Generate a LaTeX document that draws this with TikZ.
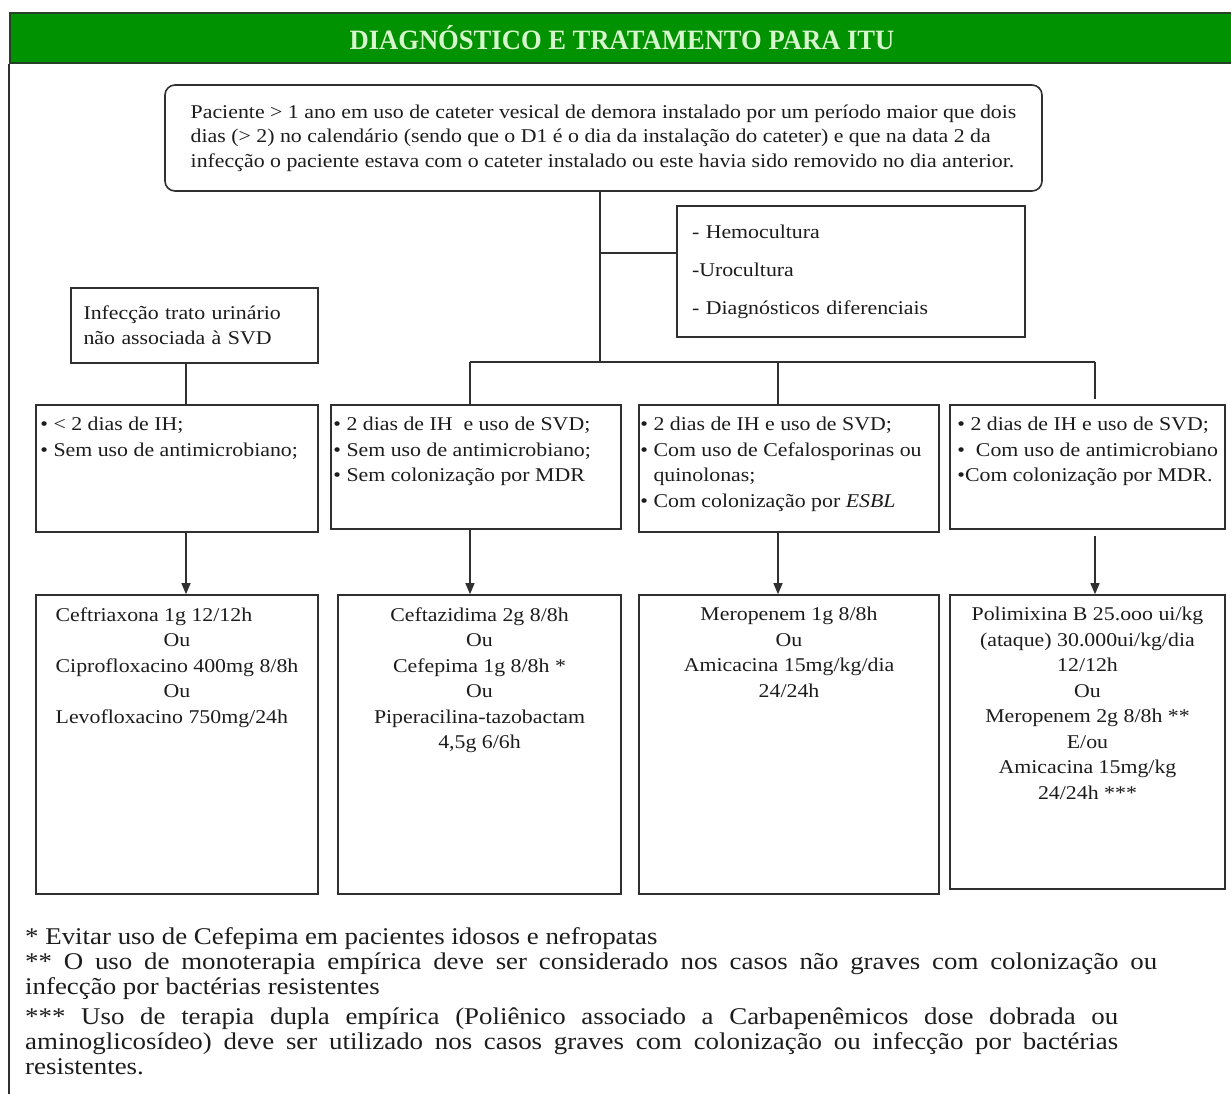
\documentclass[tikz,border=0pt]{standalone}
\usepackage{fontspec}
\setmainfont[FakeStretch=1.12]{Liberation Serif}
\newfontfamily\titleface[FakeStretch=0.95]{Liberation Serif}
\usetikzlibrary{arrows.meta,positioning}
\definecolor{bandGreen}{RGB}{0,146,0}
\definecolor{bandEdge}{RGB}{38,66,38}
\definecolor{titleInk}{RGB}{214,246,204}
\definecolor{lineGray}{RGB}{48,48,48}
\definecolor{inkBlack}{RGB}{28,28,28}
\newcommand{\boxfont}{\fontsize{19.5}{25.5}\selectfont}
\newcommand{\topfont}{\fontsize{19.5}{24.5}\selectfont}
\newcommand{\notefont}{\fontsize{24}{25}\selectfont}
\newcommand{\ciprofloxacino}{Ciprofloxacino 400mg 8/8h}
\tikzset{
  title band/.style={draw=bandEdge,line width=2pt,fill=bandGreen,text=titleInk,font=\titleface\bfseries\fontsize{28}{30}\selectfont,inner sep=0pt},
  flow box/.style={draw=lineGray,line width=1.6pt,inner sep=0pt},
  start box/.style={flow box,rounded corners=10pt,text=inkBlack,font=\topfont,align=left},
  note box/.style={flow box,text=inkBlack,align=left},
  box text/.style={inner sep=0pt,text=inkBlack,font=\boxfont},
  flow line/.style={draw=lineGray,line width=1.3pt},
  flow arrow/.style={flow line,-{Triangle[length=11pt,width=9pt]}},
  foot note/.style={inner sep=0pt,text=inkBlack,font=\notefont,align=left}
}

\begin{document}
\begin{tikzpicture}[x=1pt,y=-1pt]
  \useasboundingbox (0,0) rectangle (1231,1093);
  \node[title band,minimum width=1224pt,minimum height=50pt] (title) at (622,38) {DIAGNÓSTICO E TRATAMENTO PARA ITU};
  \draw[flow line] (title.south west) -- ++(0,1035);

  \node[start box,minimum width=877pt,minimum height=106pt] (start) at (603.5,138) {Paciente > 1 ano em uso de cateter vesical de demora instalado por um período maior que dois\\dias (> 2) no calendário (sendo que o D1 é o dia da instalação do cateter) e que na data 2 da\\infecção o paciente estava com o cateter instalado ou este havia sido removido no dia anterior.};
  \node[note box,minimum width=348pt,minimum height=131pt,text width=318pt,font=\fontsize{19.5}{38}\selectfont] (exams) at (851,271.5) {- Hemocultura\\-Urocultura\\- Diagnósticos diferenciais};
  \node[note box,minimum width=247pt,minimum height=75pt,text width=222pt,font=\boxfont] (nonsvd) at (194.5,325.5) {Infecção trato urinário\\não associada à SVD};

  \node[flow box,minimum width=282pt,minimum height=127pt] (crit1) at (177,468.5) {};
  \node[flow box,minimum width=290pt,minimum height=124pt] (crit2) at (476,467) {};
  \node[flow box,minimum width=300pt,minimum height=127pt] (crit3) at (789,468.5) {};
  \node[flow box,minimum width=275pt,minimum height=124pt] (crit4) at (1087.5,467) {};
  \node[box text,align=left,anchor=north west] (crit1 text) at ([xshift=5pt,yshift=-13pt]crit1.north west) {• < 2 dias de IH;\\• Sem uso de antimicrobiano;};
  \node[box text,align=left,anchor=north west] (crit2 text) at ([xshift=3pt,yshift=-13pt]crit2.north west) {• 2 dias de IH~ e uso de SVD;\\• Sem uso de antimicrobiano;\\• Sem colonização por MDR};
  \node[box text,align=left,anchor=north west] (crit3 text) at ([xshift=2pt,yshift=-13pt]crit3.north west) {• 2 dias de IH e uso de SVD;\\• Com uso de Cefalosporinas ou\\\hphantom{• }quinolonas;\\• Com colonização por \textit{ESBL}};
  \node[box text,align=left,anchor=north west] (crit4 text) at ([xshift=8pt,yshift=-13pt]crit4.north west) {• 2 dias de IH e uso de SVD;\\•\ \ Com uso de antimicrobiano\\•Com colonização por MDR.};

  \node[flow box,minimum width=282pt,minimum height=299pt] (treat1) at (177,744.5) {};
  \node[flow box,minimum width=283pt,minimum height=299pt] (treat2) at (479.5,744.5) {};
  \node[flow box,minimum width=300pt,minimum height=299pt] (treat3) at (789,744.5) {};
  \node[flow box,minimum width=275pt,minimum height=294pt] (treat4) at (1087.5,742) {};
  \node[box text,align=center,anchor=north] (treat1 text) at ([yshift=-13pt]treat1.north) {\rlap{Ceftriaxona 1g 12/12h}\phantom{\ciprofloxacino}\\Ou\\\ciprofloxacino\\Ou\\\rlap{Levofloxacino 750mg/24h}\phantom{\ciprofloxacino}};
  \node[box text,align=center,anchor=north] (treat2 text) at ([yshift=-13pt]treat2.north) {Ceftazidima 2g 8/8h\\Ou\\Cefepima 1g 8/8h *\\Ou\\Piperacilina-tazobactam\\4,5g 6/6h};
  \node[box text,align=center,anchor=north] (treat3 text) at ([yshift=-13pt]treat3.north) {Meropenem 1g 8/8h\\Ou\\Amicacina 15mg/kg/dia\\24/24h};
  \node[box text,align=center,anchor=north] (treat4 text) at ([yshift=-13pt]treat4.north) {Polimixina B 25.ooo ui/kg\\(ataque) 30.000ui/kg/dia\\12/12h\\Ou\\Meropenem 2g 8/8h **\\E/ou\\Amicacina 15mg/kg\\24/24h ***};

  \coordinate (hub) at (600,362);
  \coordinate (tap) at (600,253);
  \coordinate (col1) at (186,0);
  \coordinate (col2) at (470,0);
  \coordinate (col3) at (778,0);
  \coordinate (col4) at (1095,0);
  \draw[flow line] (hub |- start.south) -- (hub);
  \draw[flow line] (tap) -- (tap -| exams.west);
  \draw[flow line] (col2 |- hub) -- (col4 |- hub);
  \foreach \i/\gap in {2/0,3/0,4/5}
    \draw[flow line,shorten >=\gap pt] (col\i |- hub) -- (col\i |- crit\i.north);
  \draw[flow line] (col1 |- nonsvd.south) -- (col1 |- crit1.north);
  \foreach \i/\gap in {1/0,2/0,3/0,4/6}
    \draw[flow arrow,shorten <=\gap pt] (col\i |- crit\i.south) -- (col\i |- treat\i.north);

  \node[foot note,anchor=north west] (notes) at (25,927) {* Evitar uso de Cefepima em pacientes idosos e nefropatas\\\makebox[1132pt][s]{** O uso de monoterapia empírica deve ser considerado nos casos não graves com colonização ou}\\infecção por bactérias resistentes\\[5pt]\makebox[1093pt][s]{*** Uso de terapia dupla empírica (Poliênico associado a Carbapenêmicos dose dobrada ou}\\\makebox[1093pt][s]{aminoglicosídeo) deve ser utilizado nos casos graves com colonização ou infecção por bactérias}\\resistentes.};
\end{tikzpicture}
\end{document}
